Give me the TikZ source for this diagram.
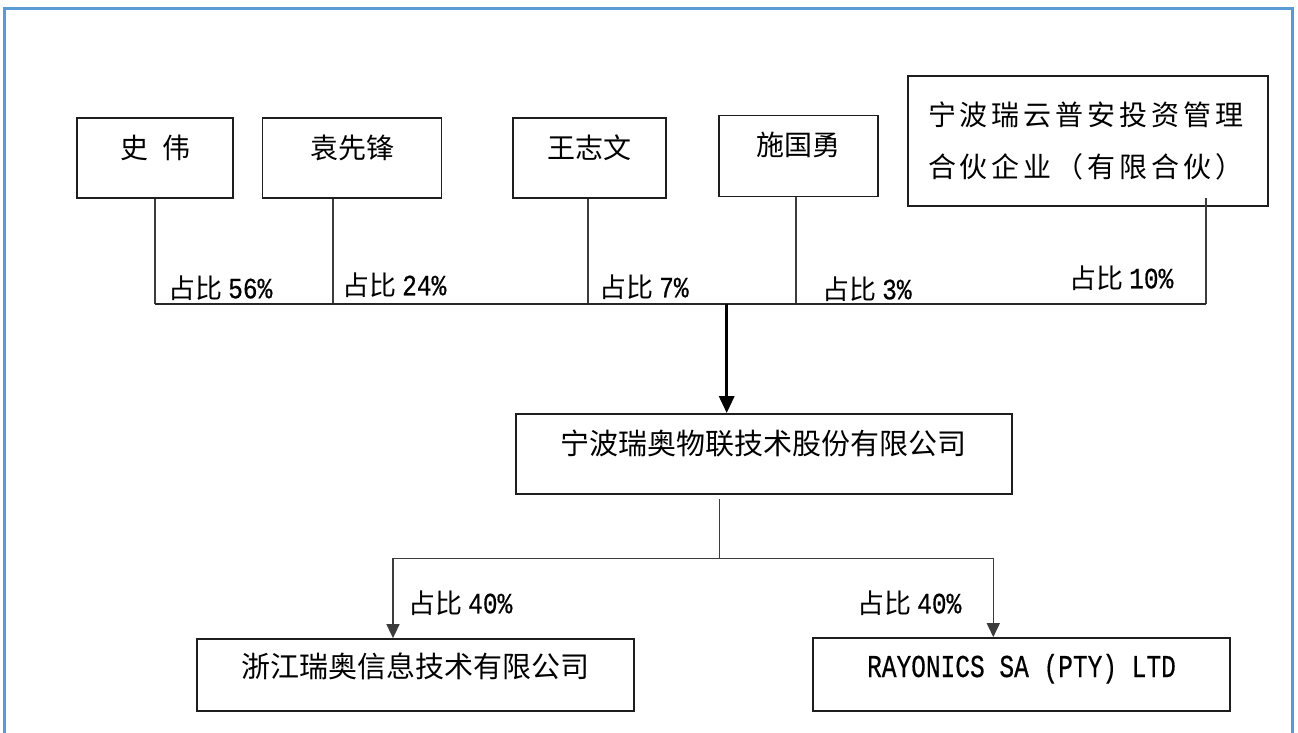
\documentclass[tikz,border=0pt]{standalone}
\usepackage{fontspec}
\usepackage{graphicx}
\setmainfont{Noto Sans CJK SC}
\newfontfamily\mono[FakeBold=0.6]{Liberation Mono}
\newfontfamily\cjkspaced[LetterSpace=14]{Noto Sans CJK SC}
\usetikzlibrary{arrows.meta}
\definecolor{frameblue}{RGB}{91,155,213}
\definecolor{linegray}{RGB}{60,60,60}
\definecolor{boxline}{RGB}{30,30,30}
\newcommand{\pctnum}[1]{{\mono\fontsize{24.5}{30}\selectfont\scalebox{1}[1.2]{#1}}}
\begin{document}
\begin{tikzpicture}[x=1pt,y=-1pt,
  box/.style={draw=boxline,line width=1.8pt,inner sep=0pt,text height=0pt,text depth=0pt,font=\fontsize{28}{34}\selectfont},
  pct/.style={anchor=west,inner sep=0pt,font=\fontsize{27}{32}\selectfont},
  conn/.style={draw=linegray,line width=1.6pt},
  mainarrow/.style={draw=black,line width=3.2pt,-{Triangle[width=15pt,length=17pt]}},
  subarrow/.style={draw=linegray,line width=1.6pt,-{Triangle[width=13pt,length=14pt]}}]
\useasboundingbox (0,0) rectangle (1298,733);
\fill[white] (0,0) rectangle (1298,733);
\draw[frameblue,line width=3pt] (4,745) -- (4,9) -- (1292,9) -- (1292,745);

% shareholders
\node[box,minimum width=156pt,minimum height=80pt] (shi) at (155,158) {史\hspace{14pt}伟};
\node[box,minimum width=179pt,minimum height=80pt] (yuan) at (352,158) {袁先锋};
\node[box,minimum width=153pt,minimum height=80pt] (wang) at (589.5,158) {王志文};
\node[box,minimum width=159pt,minimum height=81pt] (shig) at (798.5,156) {施国勇};
\node[draw=boxline,line width=1.8pt,minimum width=360pt,minimum height=130pt,text width=320pt,align=left,inner sep=0pt,font=\cjkspaced\fontsize{28}{51.7}\selectfont] (rui) at (1088,140.7) {宁波瑞云普安投资管理\\合伙企业（有限合伙）};

% company and subsidiaries
\node[box,minimum width=496pt,minimum height=80pt,font=\fontsize{29}{34}\selectfont] (hq) at (763.7,454) {宁波瑞奥物联技术股份有限公司};
\node[box,minimum width=437pt,minimum height=72pt,text height=5pt,font=\fontsize{29}{34}\selectfont] (zj) at (415.4,675) {浙江瑞奥信息技术有限公司};
\node[box,minimum width=417pt,minimum height=73pt,text height=5pt,font=\mono\fontsize{24.5}{30}\selectfont] (ray) at (1021.5,674.5) {\scalebox{1}[1.3]{RAYONICS SA (PTY) LTD}};

% bus junctions
\coordinate (j1) at (155,304);
\coordinate (j2) at (333,304);
\coordinate (j3) at (587.7,304);
\coordinate (j4) at (796,304);
\coordinate (j5) at (1206,304);
\coordinate (jm) at (726.7,304);
\draw[conn] (shi.south) -- (j1);
\draw[conn] (j2 |- yuan.south) -- (j2);
\draw[conn] (j3 |- wang.south) -- (j3);
\draw[conn] (j4 |- shig.south) -- (j4);
\draw[conn] ([yshift=9pt]j5 |- rui.south) -- (j5);
\draw[conn,line width=2pt,draw=black!85] (j1) -- (j5);
\draw[mainarrow] (jm) -- (jm |- hq.north);

% lower bus
\coordinate (k0) at (719.3,558.3);
\coordinate (kL) at (393,558.3);
\coordinate (kR) at (993.3,558.3);
\draw[conn] ([yshift=-4pt]k0 |- hq.south) -- (k0);
\draw[conn] (kL) -- (kR);
\draw[subarrow] (kL) -- (kL |- zj.north);
\draw[subarrow] (kR) -- (kR |- ray.north);

% percentages
\node[pct] (p56) at (168,288) {占比\hspace{6pt}\pctnum{56\%}};
\node[pct] (p24) at (342,285) {占比\hspace{6pt}\pctnum{24\%}};
\node[pct] (p7) at (599,287) {占比\hspace{6pt}\pctnum{7\%}};
\node[pct] (p3) at (822,289) {占比\hspace{6pt}\pctnum{3\%}};
\node[pct] (p10) at (1069,278) {占比\hspace{6pt}\pctnum{10\%}};
\node[pct] (p40a) at (408,603) {占比\hspace{6pt}\pctnum{40\%}};
\node[pct] (p40b) at (857,603) {占比\hspace{6pt}\pctnum{40\%}};
\end{tikzpicture}
\end{document}
